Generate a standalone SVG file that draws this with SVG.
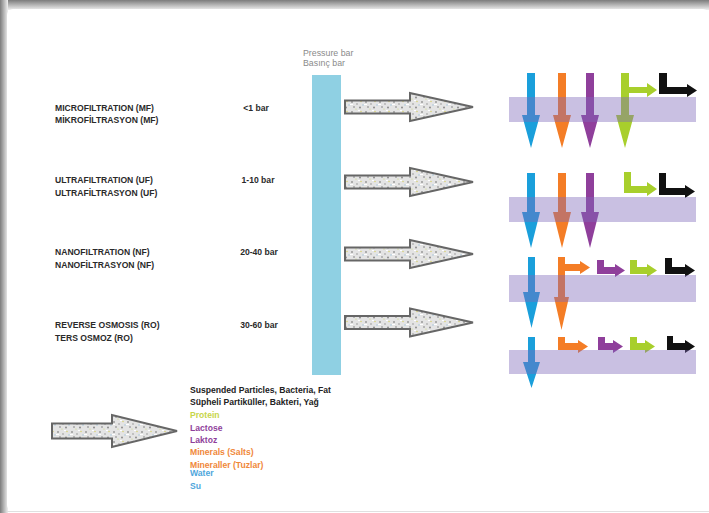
<svg xmlns="http://www.w3.org/2000/svg" width="709" height="513" viewBox="0 0 709 513">
<style>
.lbl{font-family:"Liberation Sans",Arial,sans-serif;font-size:8.6px;font-weight:bold;fill:#2a2a2a}
.bar{font-family:"Liberation Sans",Arial,sans-serif;font-size:8.6px;font-weight:bold;fill:#2a2a2a;text-anchor:middle}
.pr{font-family:"Liberation Sans",Arial,sans-serif;font-size:8.8px;fill:#8a8a8a}
.lg{font-family:"Liberation Sans",Arial,sans-serif;font-size:8.6px;font-weight:bold}
.big{fill:url(#speck);stroke:#666;stroke-width:2;stroke-linejoin:miter}
.band{fill:#7e68ba;fill-opacity:0.42}
.blue{fill:#1a9fdb}.orange{fill:#f47d26}.purple{fill:#8f3f9b}.green{fill:#a8cf2c}.black{fill:#111}
</style>
<defs>
<linearGradient id="topg" x1="0" y1="0" x2="0" y2="1">
<stop offset="0" stop-color="#7c7c7c"/><stop offset="1" stop-color="#f0f0f0"/>
</linearGradient>
<linearGradient id="leftg" x1="0" y1="0" x2="1" y2="0">
<stop offset="0" stop-color="#7c7c7c"/><stop offset="1" stop-color="#f0f0f0"/>
</linearGradient>
<pattern id="speck" width="14" height="10" patternUnits="userSpaceOnUse">
<rect width="14" height="10" fill="#e4e4e4"/>
<circle cx="2" cy="2" r="1" fill="#9a9a9a"/>
<circle cx="7" cy="4" r="0.9" fill="#b0b0b0"/>
<circle cx="11" cy="1.5" r="0.8" fill="#d6d27a"/>
<circle cx="4" cy="7" r="0.9" fill="#a0a0a0"/>
<circle cx="10" cy="7.5" r="1" fill="#8c8c8c"/>
<circle cx="13" cy="5" r="0.7" fill="#9cc3dc"/>
<circle cx="6" cy="9" r="0.6" fill="#c9d87a"/>
<rect x="0" y="4" width="3" height="1" fill="#fff"/>
<rect x="8" y="0" width="2" height="1" fill="#fff"/>
</pattern>
</defs>
<rect width="709" height="513" fill="#ffffff"/>
<rect x="0" y="0" width="709" height="10" fill="url(#topg)"/>
<rect x="0" y="0" width="8" height="513" fill="url(#leftg)"/>
<rect x="7" y="9" width="702" height="502" rx="6" fill="#ffffff"/>
<line x1="7" y1="511.5" x2="709" y2="511.5" stroke="#e0e0e0" stroke-width="1"/>

<g id="pressure-bar">
<text class="pr" x="303" y="55.5">Pressure bar</text>
<text class="pr" x="303" y="66">Basınç bar</text>
<rect x="312" y="75" width="29" height="300" fill="#8fd0e3"/>
</g>

<g id="mf">
<text class="lbl" x="55" y="111">MICROFILTRATION (MF)</text>
<text class="lbl" x="55" y="123">MİKROFİLTRASYON (MF)</text>
<text class="bar" x="256" y="111">&lt;1 bar</text>
</g>
<g id="uf">
<text class="lbl" x="55" y="183">ULTRAFILTRATION (UF)</text>
<text class="lbl" x="55" y="196">ULTRAFİLTRASYON (UF)</text>
<text class="bar" x="258" y="183">1-10 bar</text>
</g>
<g id="nf">
<text class="lbl" x="55" y="255">NANOFILTRATION (NF)</text>
<text class="lbl" x="55" y="268">NANOFİLTRASYON (NF)</text>
<text class="bar" x="259" y="255">20-40 bar</text>
</g>
<g id="ro">
<text class="lbl" x="55" y="328">REVERSE OSMOSIS (RO)</text>
<text class="lbl" x="55" y="341">TERS OSMOZ (RO)</text>
<text class="bar" x="259" y="328">30-60 bar</text>
</g>

<g id="feed-arrows">
<polygon class="big" points="345,100.5 410,100.5 410,93 473,107 410,121 410,113.5 345,113.5"/>
<polygon class="big" points="345,175.5 410,175.5 410,168 473,182 410,196 410,188.5 345,188.5"/>
<polygon class="big" points="345,247.5 410,247.5 410,240 473,254 410,268 410,260.5 345,260.5"/>
<polygon class="big" points="345,316 410,316 410,308.5 473,322.5 410,336.5 410,329 345,329"/>
</g>

<g id="legend">
<polygon class="big" points="52,423.5 112,423.5 112,415 177,431 112,447 112,438.5 52,438.5"/>
<text class="lg" x="190" y="393" fill="#222">Suspended Particles, Bacteria, Fat</text>
<text class="lg" x="190" y="405" fill="#222">Süpheli Partiküller, Bakteri, Yağ</text>
<text class="lg" x="190" y="418" fill="#c7d64a">Protein</text>
<text class="lg" x="190" y="431" fill="#8f3f9b">Lactose</text>
<text class="lg" x="190" y="443" fill="#8f3f9b">Laktoz</text>
<text class="lg" x="190" y="455" fill="#f0883a">Minerals (Salts)</text>
<text class="lg" x="190" y="467.5" fill="#f0883a">Mineraller (Tuzlar)</text>
<text class="lg" x="190" y="476" fill="#4ea6dc">Water</text>
<text class="lg" x="190" y="488.5" fill="#4ea6dc">Su</text>
</g>

<g id="membrane-mf">
<polygon class="blue" points="527,73 535,73 535,115 540,115 531,148 522,115 527,115"/>
<polygon class="orange" points="558,73 566,73 566,115 571,115 562,148 553,115 558,115"/>
<polygon class="purple" points="586,73 594,73 594,115 599,115 590,148 581,115 586,115"/>
<polygon class="green" points="621,73 629,73 629,87 647,87 647,83 657,90 647,97 647,93 629,93 629,115 634,115 625,148 616,115 621,115"/>
<polygon class="black" points="659,73 667,73 667,87 687,87 687,84 697,90.5 687,97 687,94 659,94"/>
<rect class="band" x="509" y="97" width="187" height="25"/>
</g>

<g id="membrane-uf">
<polygon class="blue" points="527,173 535,173 535,212 540,212 531,248 522,212 527,212"/>
<polygon class="orange" points="558,173 566,173 566,212 571,212 562,248 553,212 558,212"/>
<polygon class="purple" points="586,173 594,173 594,212 599,212 590,248 581,212 586,212"/>
<polygon class="green" points="624,172 631,172 631,186 647,186 647,182 657,189 647,196 647,193 624,193"/>
<polygon class="black" points="659,173 666,173 666,188 685,188 685,185 695,191.5 685,198 685,195 659,195"/>
<rect class="band" x="509" y="197" width="187" height="25"/>
</g>

<g id="membrane-nf">
<polygon class="blue" points="528,257 535,257 535,292 540,292 531.5,328 523,292 528,292"/>
<polygon class="orange" points="558,257 565,257 565,264 580,264 580,261 590,267.5 580,274 580,271 565,271 565,297 569,297 561.5,330 554,297 558,297"/>
<polygon class="purple" points="597,260 604,260 604,267 615,267 615,264 625,270.5 615,277 615,274 597,274"/>
<polygon class="green" points="630,260 637,260 637,267 647,267 647,264 657,270.5 647,277 647,274 630,274"/>
<polygon class="black" points="665,258 672,258 672,267 685,267 685,264 695,270.5 685,277 685,274 665,274"/>
<rect class="band" x="509" y="275" width="187" height="27"/>
</g>

<g id="membrane-ro">
<polygon class="blue" points="528,337 535,337 535,362 540,362 531.5,388 523,362 528,362"/>
<polygon class="orange" points="558,337 565,337 565,343 578,343 578,340 588,346.5 578,353 578,350 558,350"/>
<polygon class="purple" points="598,337 605,337 605,343 613,343 613,340 623,346.5 613,353 613,350 598,350"/>
<polygon class="green" points="630,337 637,337 637,343 645,343 645,340 655,346.5 645,353 645,350 630,350"/>
<polygon class="black" points="667,336 673,336 673,343 685,343 685,340 695,346.5 685,353 685,350 667,350"/>
<rect class="band" x="509" y="350" width="187" height="24"/>
</g>
</svg>
